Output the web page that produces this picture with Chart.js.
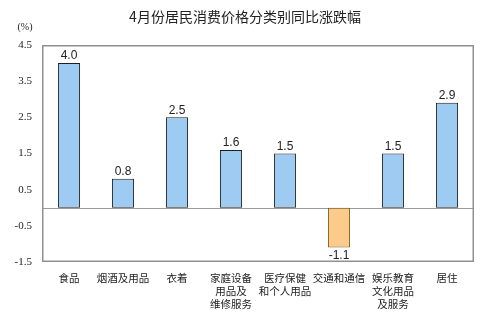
<!DOCTYPE html>
<html>
<head>
<meta charset="utf-8">
<script src="https://cdn.jsdelivr.net/npm/chart.js@4/dist/chart.umd.min.js"></script>
<style>
  html, body { margin: 0; padding: 0; background: #fff; }
  #wrap { width: 486px; height: 326px; position: relative; }
</style>
</head>
<body>
<div id="wrap"><canvas id="c" width="486" height="326"></canvas></div>
<script>
// CPI year-on-year change by category, April (%)
const categories = [
  ['食品'],
  ['烟酒及用品'],
  ['衣着'],
  ['家庭设备', '用品及', '维修服务'],
  ['医疗保健', '和个人用品'],
  ['交通和通信'],
  ['娱乐教育', '文化用品', '及服务'],
  ['居住']
];
const values = [4.0, 0.8, 2.5, 1.6, 1.5, -1.1, 1.5, 2.9];
const yTicks = [4.5, 3.5, 2.5, 1.5, 0.5, -0.5, -1.5];
const titleText = '4月份居民消费价格分类别同比涨跌幅';
const unitText = '(%)';

const posFill = '#9ecbf2', posBorder = '#1e1e1e';
const negFill = '#fccb8c', negBorder = '#7a5a10';
const frameColor = '#909090';

const decor = {
  id: 'decor',
  beforeDatasetsDraw(chart) {
    const { ctx, chartArea: a, scales: { y } } = chart;
    ctx.save();
    // zero line
    const y0 = Math.round(y.getPixelForValue(0)) + 0.5;
    ctx.strokeStyle = '#9a9a9a';
    ctx.lineWidth = 1;
    ctx.beginPath();
    ctx.moveTo(a.left, y0);
    ctx.lineTo(a.right, y0);
    ctx.stroke();
    ctx.restore();
  },
  afterDatasetsDraw(chart) {
    const { ctx, chartArea: a } = chart;
    ctx.save();
    // plot frame
    ctx.strokeStyle = frameColor;
    ctx.lineWidth = 1.5;
    ctx.strokeRect(a.left + 0.75, a.top + 0.75, a.width - 1.5, a.height - 1.5);

    const meta = chart.getDatasetMeta(0);
    ctx.fillStyle = '#222';
    ctx.font = '12px "Liberation Sans", Arial, sans-serif';
    ctx.textAlign = 'center';
    meta.data.forEach((bar, i) => {
      const v = values[i];
      const txt = v.toFixed(1);
      if (v >= 0) {
        ctx.textBaseline = 'bottom';
        ctx.fillText(txt, bar.x, bar.y - 1);
      } else {
        ctx.textBaseline = 'top';
        ctx.fillText(txt, bar.x, bar.y + 2);
      }
    });
    ctx.restore();
  },
  afterDraw(chart) {
    const { ctx } = chart;
    ctx.save();
    ctx.fillStyle = '#222';
    ctx.textAlign = 'center';
    ctx.textBaseline = 'middle';
    ctx.font = '14px "Noto Sans CJK SC", sans-serif';
    ctx.fillText(titleText, 245, 17);
    ctx.font = '10px "Liberation Serif", serif';
    ctx.fillText(unitText, 25, 27);
    ctx.restore();
  }
};

new Chart(document.getElementById('c'), {
  type: 'bar',
  data: {
    labels: categories,
    datasets: [{
      data: values,
      backgroundColor: values.map(v => v >= 0 ? posFill : negFill),
      borderColor: values.map(v => v >= 0 ? posBorder : negBorder),
      borderWidth: 1,
      borderSkipped: false,
      categoryPercentage: 1,
      barPercentage: 0.41
    }]
  },
  options: {
    responsive: false,
    animation: false,
    layout: { padding: { left: 0, right: 12, top: 45, bottom: 0 } },
    plugins: { legend: { display: false }, tooltip: { enabled: false } },
    scales: {
      x: {
        grid: { display: false, drawTicks: false },
        border: { display: false },
        ticks: {
          color: '#222',
          font: { family: '"Noto Sans CJK SC", sans-serif', size: 10.5, lineHeight: 1.25 },
          padding: 9,
          maxRotation: 0,
          autoSkip: false
        },
        afterFit(s) { s.height = 64; }
      },
      y: {
        min: -1.5,
        max: 4.5,
        afterBuildTicks(s) { s.ticks = yTicks.map(v => ({ value: v })); },
        grid: { display: false, drawTicks: false },
        border: { display: false },
        ticks: {
          color: '#222',
          font: { family: '"Liberation Serif", serif', size: 11 },
          padding: 10,
          callback: v => v.toFixed(1)
        },
        afterFit(s) { s.width = 42; }
      }
    }
  },
  plugins: [decor]
});
</script>
</body>
</html>
